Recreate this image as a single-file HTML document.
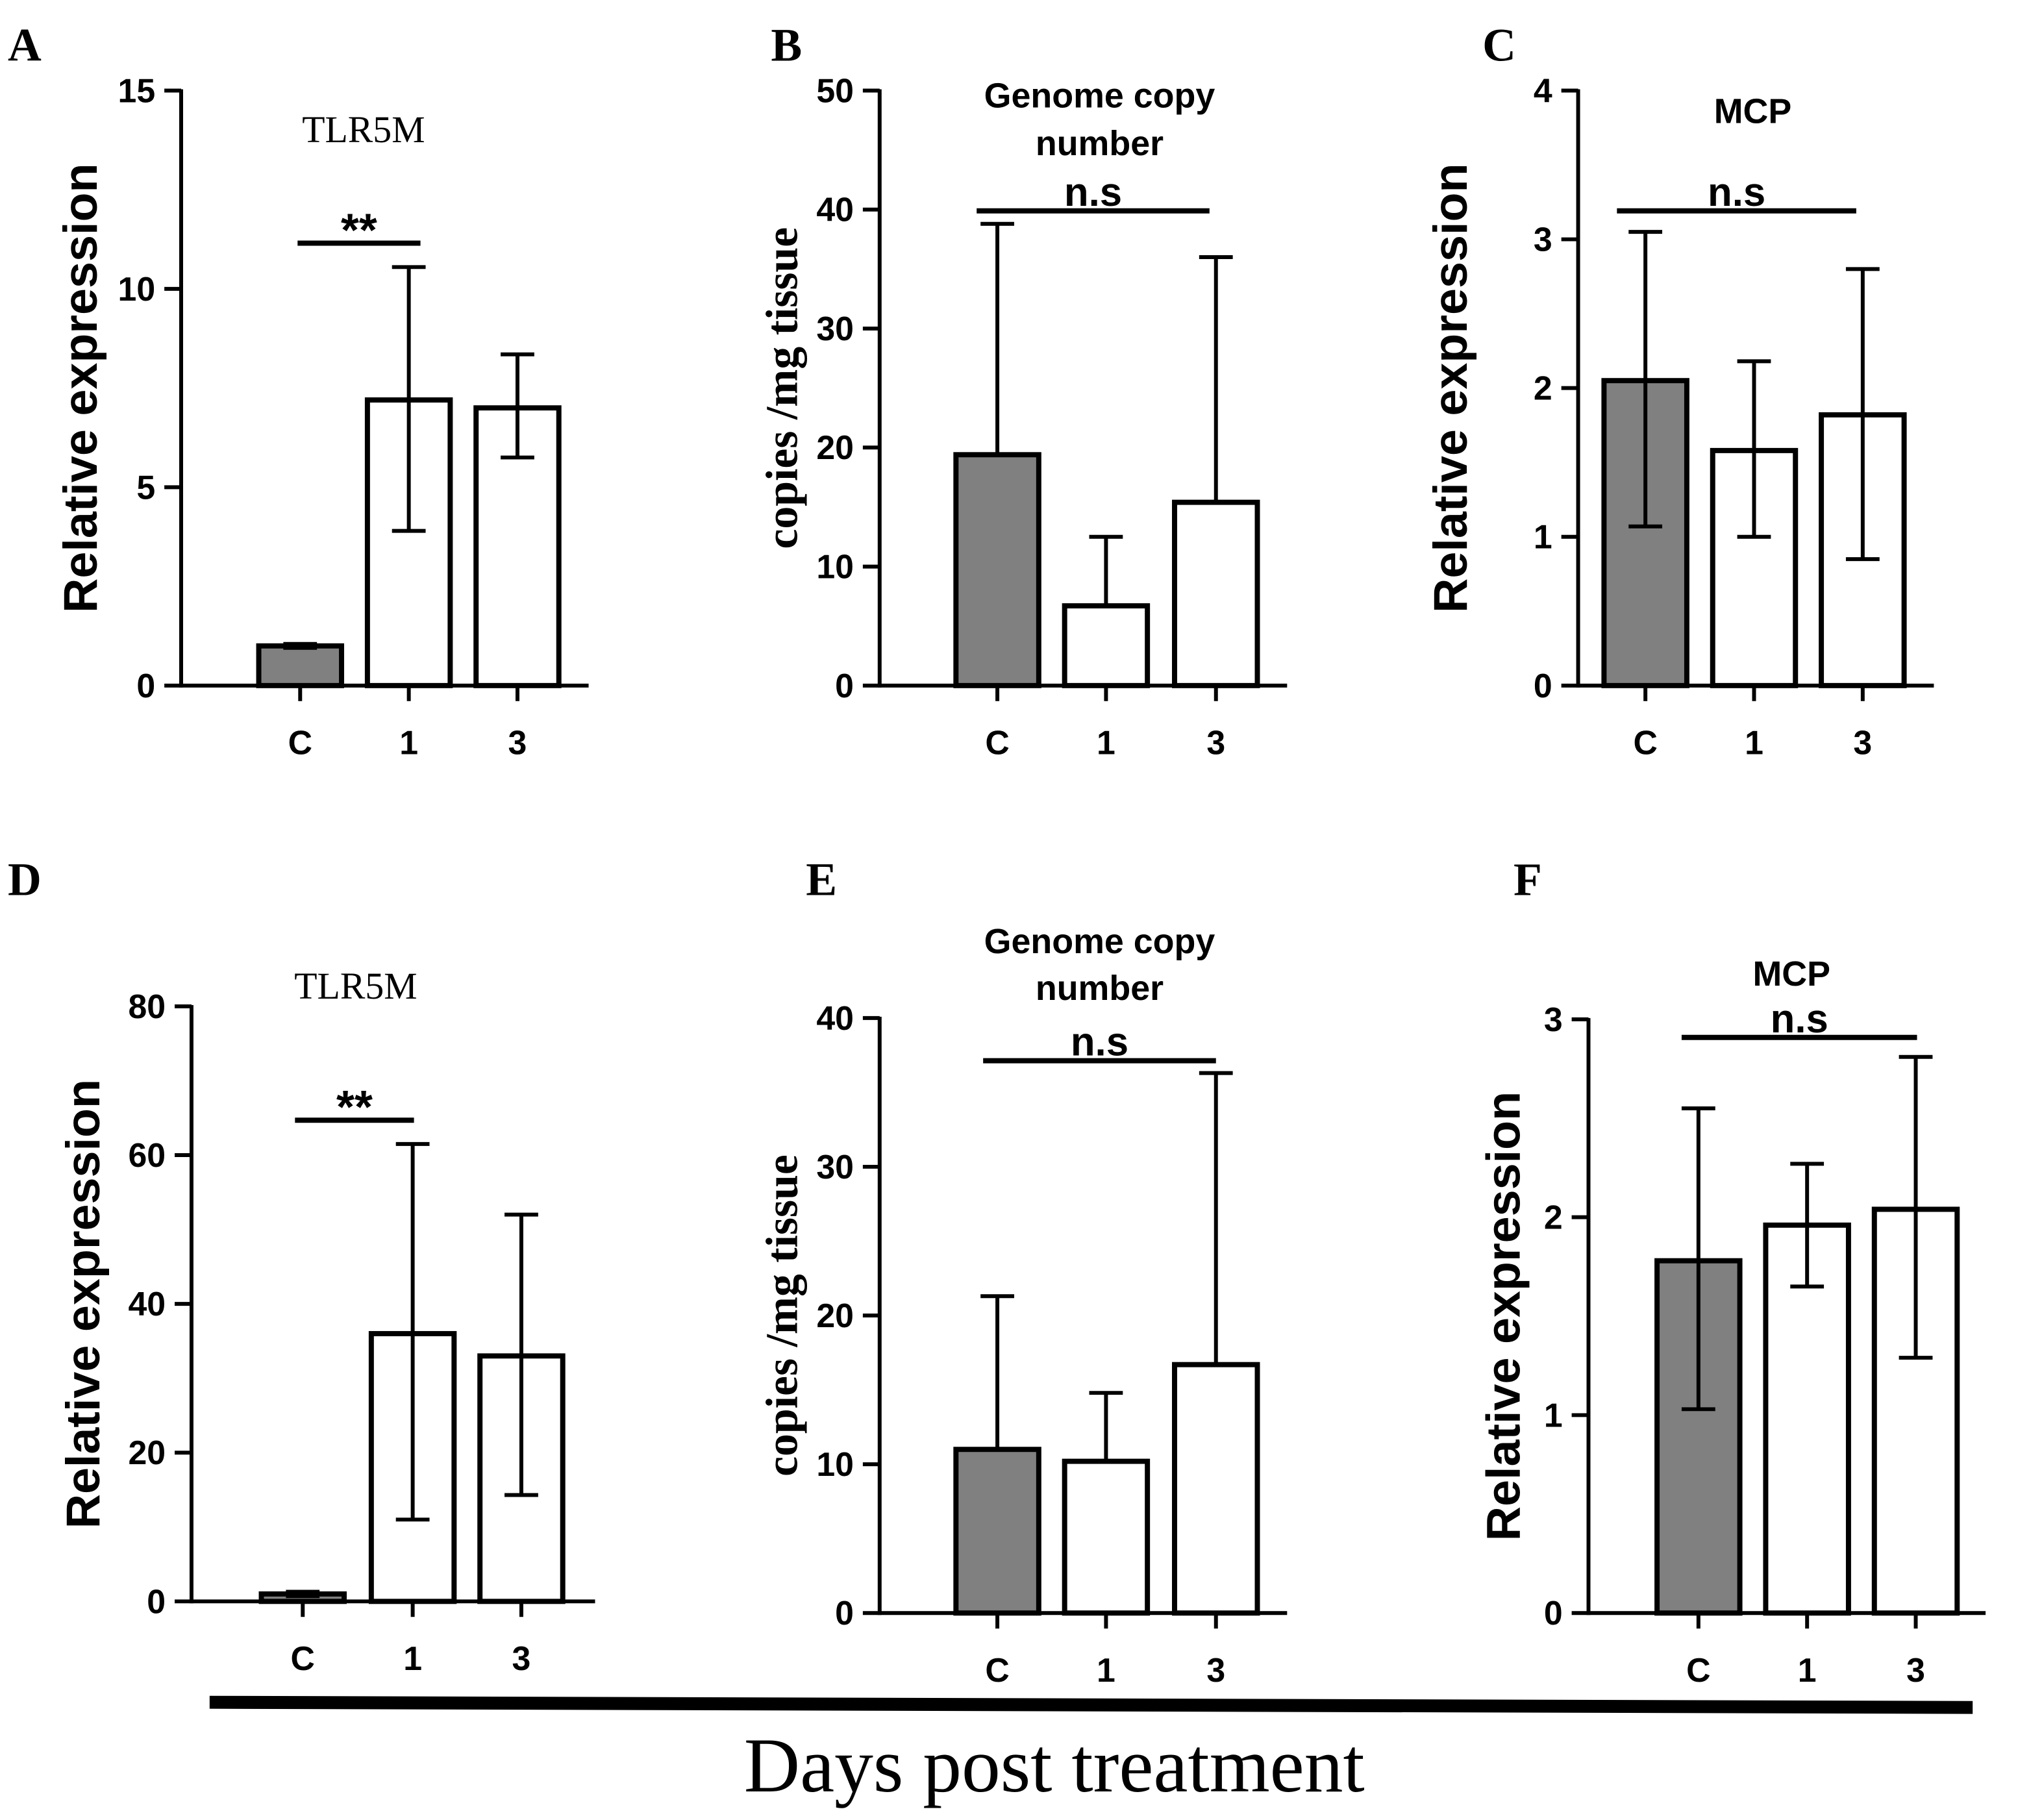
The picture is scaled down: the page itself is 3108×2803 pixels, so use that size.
<!DOCTYPE html>
<html><head><meta charset="utf-8">
<style>html,body{margin:0;padding:0;background:#fff}svg{display:block}</style></head>
<body>
<svg id="fig" width="3108" height="2803" viewBox="0 0 1560 1407" xmlns="http://www.w3.org/2000/svg" font-family="Liberation Sans, sans-serif">
<g>
<polygon points="162,1311 1525,1315 1525,1325 162,1321" fill="#000"/>
</g>
<text x="815" y="1385" font-family="Liberation Serif, serif" font-size="60" text-anchor="middle">Days post treatment</text>
</svg>
<script>
const categories = ["C","1","3"];
const panelLetters = ["A","B","C","D","E","F"];
const meansA=[1.0,7.2,7.0], upA=[1.05,10.55,8.35], loA=[0.95,3.9,5.75];
const meansB=[19.4,6.7,15.4], upB=[38.8,12.5,36.0], loB=[19.4,6.7,15.4];
const meansC=[2.05,1.58,1.82], upC=[3.05,2.18,2.8], loC=[1.07,1.0,0.85];
const meansD=[1.0,36,33], upD=[1.3,61.5,52], loD=[0.7,11,14.3];
const meansE=[11,10.2,16.7], upE=[21.3,14.8,36.3], loE=[11,10.2,16.7];
const meansF=[1.78,1.96,2.04], upF=[2.55,2.27,2.81], loF=[1.03,1.65,1.29];
const ticksA=[0,5,10,15], ticksB=[0,10,20,30,40,50], ticksC=[0,1,2,3,4];
const ticksD=[0,20,40,60,80], ticksE=[0,10,20,30,40], ticksF=[0,1,2,3];

const NS="http://www.w3.org/2000/svg";
const svg=document.getElementById('fig');
function mk(tag,attrs,parent,text){const e=document.createElementNS(NS,tag);for(const k in attrs)e.setAttribute(k,attrs[k]);if(text!==undefined)e.textContent=text;(parent||svg).appendChild(e);return e;}

const panels=[
 {id:"a",letter:[6,47],ax:140,y0:530,ytop:70,max:15,ticks:ticksA,means:meansA,up:upA,lo:loA,cx:[232,316,400],xend:455,title:["TLR5M"],tSerif:true,tY:[110],tX:281,ylab:"Relative expression",ylx:65,yserif:false,sig:"**",sigLine:[230,325,188]},
 {id:"b",letter:[596,47],ax:680,y0:530,ytop:70,max:50,ticks:ticksB,means:meansB,up:upB,lo:loB,cx:[771,855,940],xend:995,title:["Genome copy","number"],tY:[83,120],tX:850,ylab:"copies /mg tissue",ylx:608,yserif:true,sig:"n.s",sigLine:[755,935,163]},
 {id:"c",letter:[1146,47],ax:1220,y0:530,ytop:70,max:4,ticks:ticksC,means:meansC,up:upC,lo:loC,cx:[1272,1356,1440],xend:1495,title:["MCP"],tY:[95],tX:1355,ylab:"Relative expression",ylx:1124,yserif:false,sig:"n.s",sigLine:[1250,1435,163]},
 {id:"d",letter:[6,692],ax:148,y0:1238,ytop:778,max:80,ticks:ticksD,means:meansD,up:upD,lo:loD,cx:[234,319,403],xend:460,title:["TLR5M"],tSerif:true,tY:[772],tX:275,ylab:"Relative expression",ylx:67,yserif:false,sig:"**",sigLine:[228,320,866]},
 {id:"e",letter:[623,692],ax:680,y0:1247,ytop:787,max:40,ticks:ticksE,means:meansE,up:upE,lo:loE,cx:[771,855,940],xend:995,title:["Genome copy","number"],tY:[737,773],tX:850,ylab:"copies /mg tissue",ylx:608,yserif:true,sig:"n.s",sigLine:[760,940,820]},
 {id:"f",letter:[1170,692],ax:1228,y0:1247,ytop:788,max:3,ticks:ticksF,means:meansF,up:upF,lo:loF,cx:[1313,1397,1481],xend:1535,title:["MCP"],tY:[762],tX:1385,ylab:"Relative expression",ylx:1165,yserif:false,sig:"n.s",sigLine:[1300,1482,802]}
];
const bw=64;
panels.forEach((p,pi)=>{
 const g=mk('g',{});
 
 
 const y=v=>p.y0-(v/p.max)*(p.y0-p.ytop);
 const L=mk('text',{x:p.letter[0],y:p.letter[1],'font-family':'Liberation Serif, serif','font-size':36,'font-weight':'bold'},g,panelLetters[pi]);
 
 
 p.means.forEach((m,i)=>{
  const r=mk('rect',{x:p.cx[i]-bw/2,y:y(m),width:bw,height:p.y0-y(m),fill:i===0?'#808080':'#fff',stroke:'#000','stroke-width':4},g);
  
  
  const e=mk('g',{stroke:'#000','stroke-width':3},g);
  
  
  mk('line',{x1:p.cx[i],x2:p.cx[i],y1:y(p.up[i]),y2:y(p.lo[i])},e);
  mk('line',{x1:p.cx[i]-13,x2:p.cx[i]+13,y1:y(p.up[i]),y2:y(p.up[i])},e);
  if(p.lo[i]<m) mk('line',{x1:p.cx[i]-13,x2:p.cx[i]+13,y1:y(p.lo[i]),y2:y(p.lo[i])},e);
  const t=mk('text',{x:p.cx[i],y:p.y0+53,'font-size':26,'font-weight':'bold','text-anchor':'middle'},g,categories[i]);
  
  
  mk('line',{x1:p.cx[i],x2:p.cx[i],y1:p.y0,y2:p.y0+12,stroke:'#000','stroke-width':3},g);
 });
 const ya=mk('line',{x1:p.ax,x2:p.ax,y1:p.ytop-1,y2:p.y0+1.5,stroke:'#000','stroke-width':3},g);
 
 
 const xa=mk('line',{x1:p.ax,x2:p.xend,y1:p.y0,y2:p.y0,stroke:'#000','stroke-width':3},g);
 
 
 p.ticks.forEach(t=>{
  mk('line',{x1:p.ax-13,x2:p.ax,y1:y(t),y2:y(t),stroke:'#000','stroke-width':3},g);
  const tl=mk('text',{x:p.ax-20,y:y(t)+9,'font-size':26,'font-weight':'bold','text-anchor':'end'},g,String(t));
  
  
 });
 const cy=(p.y0+p.ytop)/2;
 const yl=mk('text',{x:p.ylx,y:cy,transform:`rotate(-90 ${p.ylx} ${cy})`,'text-anchor':'middle','font-size':p.yserif?35:37,'font-weight':'bold','font-family':p.yserif?'Liberation Serif, serif':'Liberation Sans, sans-serif','dominant-baseline':'middle'},g,p.ylab);
 
 
 p.title.forEach((s,k)=>{
  const tt=mk('text',{x:p.tX,y:p.tY[k],'text-anchor':'middle','font-size':p.tSerif?29:27,'font-weight':p.tSerif?'normal':'bold','font-family':p.tSerif?'Liberation Serif, serif':'Liberation Sans, sans-serif'},g,s);
  
  
 });
 const s=p.sigLine;
 const sl=mk('line',{x1:s[0],x2:s[1],y1:s[2],y2:s[2],stroke:'#000','stroke-width':4},g);
 
 
 const st=mk('text',{x:(s[0]+s[1])/2,y:p.sig==='**'?s[2]+2:s[2]-4,'text-anchor':'middle','font-size':p.sig==='**'?36:31,'font-weight':'bold'},g,p.sig);
 
 
});
</script>
</body></html>
